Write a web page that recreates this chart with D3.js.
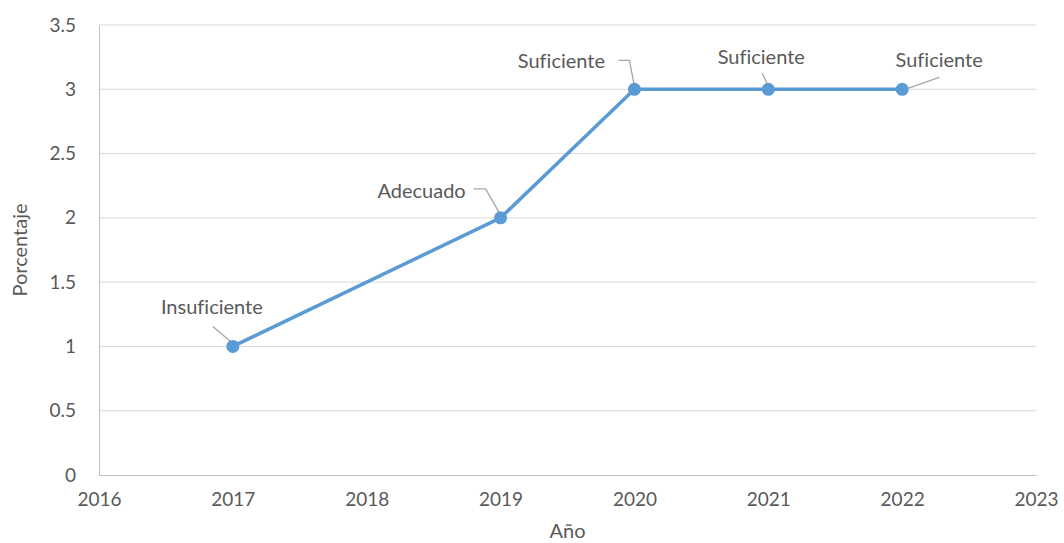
<!DOCTYPE html>
<html>
<head>
<meta charset="utf-8">
<script src="https://cdn.jsdelivr.net/npm/d3@7"></script>
<style>
  body { margin: 0; background: #fff; }
  text { font-family: Lato, "Open Sans", sans-serif; fill: #595959; font-variant-ligatures: none; }
</style>
</head>
<body>
<div id="chart"></div>
<script>
const years = [2017, 2019, 2020, 2021, 2022];
const values = [1, 2, 3, 3, 3];
const labels = ["Insuficiente", "Adecuado", "Suficiente", "Suficiente", "Suficiente"];
const yTicks = [0, 0.5, 1, 1.5, 2, 2.5, 3, 3.5];
const xTicks = [2016, 2017, 2018, 2019, 2020, 2021, 2022, 2023];

// label placement relative to the point: text centre, and leader path
const labelLayout = [
  { dx: -21, dy: -39, leader: [[-20, -20], [0, -3]] },
  { dx: -79, dy: -27, leader: [[-27, -29], [-15, -29], [0, -3]] },
  { dx: -73, dy: -28, leader: [[-16, -29], [-5, -29], [0, -3]] },
  { dx: -7, dy: -32, leader: [[-6, -16], [0, -3]] },
  { dx: 37, dy: -29, leader: [[37, -12], [3, 0]] }
];

function renderChart(){
  const width = 1064, height = 543;
  const margin = { left: 99, right: 28, top: 25, bottom: 68 };

  const svg = d3.select("#chart").append("svg")
      .attr("width", width)
      .attr("height", height);

  const x = d3.scaleLinear().domain([2016, 2023]).range([margin.left, width - margin.right]);
  const y = d3.scaleLinear().domain([0, 3.5]).range([height - margin.bottom, margin.top]);

  // horizontal gridlines
  svg.append("g").selectAll("line")
    .data(yTicks.filter(d => d > 0))
    .enter().append("line")
      .attr("x1", x(2016)).attr("x2", x(2023))
      .attr("y1", d => y(d)).attr("y2", d => y(d))
      .style("stroke", "#d9d9d9").style("stroke-width", 1);

  // axes
  const yAxis = svg.append("g")
      .attr("transform", `translate(${margin.left},0)`)
      .call(d3.axisLeft(y).tickValues(yTicks).tickSize(0).tickPadding(23).tickFormat(d3.format("")));
  yAxis.select(".domain").style("stroke", "#bfbfbf");
  yAxis.selectAll("text").style("font-size", "19px").attr("fill", null);

  const xAxis = svg.append("g")
      .attr("transform", `translate(0,${y(0)})`)
      .call(d3.axisBottom(x).tickValues(xTicks).tickSize(0).tickPadding(18).tickFormat(d3.format("d")));
  xAxis.select(".domain").style("stroke", "#bfbfbf");
  xAxis.selectAll("text").style("font-size", "19px").attr("fill", null);

  // axis titles
  svg.append("text")
      .attr("transform", `translate(20,${(y(0) + y(3.5)) / 2}) rotate(-90)`)
      .attr("text-anchor", "middle")
      .attr("dy", "0.35em")
      .style("font-size", "20px")
      .text("Porcentaje");
  svg.append("text")
      .attr("x", (x(2016) + x(2023)) / 2)
      .attr("y", 531)
      .attr("dy", "0.35em")
      .attr("text-anchor", "middle")
      .style("font-size", "20px")
      .text("Año");

  const pts = years.map((yr, i) => ({ x: x(yr), y: y(values[i]), label: labels[i], lay: labelLayout[i] }));

  // leader lines
  svg.append("g").selectAll("path")
    .data(pts)
    .enter().append("path")
      .attr("d", d => d3.line()(d.lay.leader.map(p => [d.x + p[0], d.y + p[1]])))
      .style("fill", "none")
      .style("stroke", "#a6a6a6")
      .style("stroke-width", 1.3);

  // series line
  svg.append("path")
      .datum(pts)
      .attr("d", d3.line().x(d => d.x).y(d => d.y))
      .style("fill", "none")
      .style("stroke", "#5b9bd5")
      .style("stroke-width", 3.5)
      .style("stroke-linejoin", "round");

  svg.append("g").selectAll("circle")
    .data(pts)
    .enter().append("circle")
      .attr("cx", d => d.x).attr("cy", d => d.y).attr("r", 6.5)
      .style("fill", "#5b9bd5");

  // data labels
  svg.append("g").selectAll("text")
    .data(pts)
    .enter().append("text")
      .attr("x", d => d.x + d.lay.dx)
      .attr("y", d => d.y + d.lay.dy)
      .attr("dy", "0.35em")
      .attr("text-anchor", "middle")
      .style("font-size", "20px")
      .text(d => d.label);
}

renderChart();
</script>
</body>
</html>
